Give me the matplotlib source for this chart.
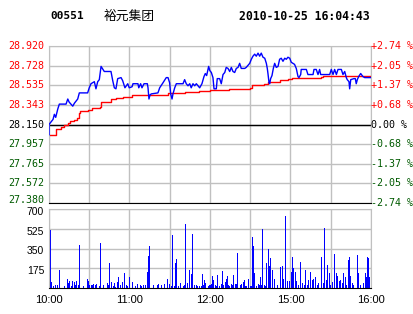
import matplotlib
matplotlib.use('Agg')
import matplotlib.pyplot as plt

# 00551 裕元集团 分时图 2010-10-25
code = '00551'
name = '裕元集团'
stamp = '2010-10-25 16:04:43'
prev_close = 28.150

# 价格线 (分钟, 价格)
price_pts = [(0, 28.05), (0, 28.15), (3, 28.20), (4, 28.25), (5, 28.22), (6.5, 28.30), (7.7, 28.35),
             (12.7, 28.35), (14, 28.40), (15, 28.37), (17.7, 28.33), (19, 28.36), (21.4, 28.40),
             (22.6, 28.46), (28.8, 28.46), (30, 28.51), (31.3, 28.55), (33.8, 28.57), (35, 28.50),
             (36.3, 28.57), (37.5, 28.59), (38.8, 28.72), (41.2, 28.67), (46.2, 28.67), (47.5, 28.58),
             (48.7, 28.51), (49.9, 28.50), (51.2, 28.60), (53.7, 28.61), (54.9, 28.58), (56.6, 28.51),
             (58.7, 28.55), (59.8, 28.51), (61.9, 28.52), (62.6, 28.55), (66.3, 28.55), (66.9, 28.51),
             (68.3, 28.55), (69.3, 28.51), (70.8, 28.55), (73.3, 28.55), (73.8, 28.51), (74.5, 28.40),
             (75.3, 28.44), (76.2, 28.45), (81.2, 28.46), (82.5, 28.51), (85, 28.56), (87.4, 28.61),
             (88.7, 28.61), (89.9, 28.56), (90.7, 28.45), (91.7, 28.40), (92.4, 28.45), (93.7, 28.51),
             (94.9, 28.55), (99.9, 28.55), (101.1, 28.59), (102.3, 28.55), (103.6, 28.53), (104.9, 28.55),
             (106, 28.51), (107.3, 28.55), (108.6, 28.53), (109.8, 28.55), (112.3, 28.51), (114, 28.55),
             (115.5, 28.62), (116.5, 28.65), (117.5, 28.63), (119, 28.72), (119.8, 28.68), (121, 28.66),
             (122.2, 28.61), (123, 28.50), (124.7, 28.50), (125.4, 28.60), (127.2, 28.60), (128.4, 28.55),
             (129.7, 28.64), (131, 28.66), (132.1, 28.71), (133.4, 28.70), (134.7, 28.67), (135.9, 28.71),
             (137.1, 28.67), (138.4, 28.66), (139.6, 28.70), (140.9, 28.71), (142.1, 28.75), (143.3, 28.70),
             (145.9, 28.70), (147, 28.71), (148.3, 28.73), (149.6, 28.75), (150.8, 28.79), (152, 28.82),
             (153.3, 28.84), (154.5, 28.82), (155.8, 28.85), (157, 28.82), (158.2, 28.85), (159.5, 28.81),
             (160.8, 28.80), (162, 28.75), (162.7, 28.70), (163.2, 28.65), (164, 28.56), (164.5, 28.55),
             (165.2, 28.60), (166.2, 28.63), (167.2, 28.70), (168.2, 28.75), (169.4, 28.71), (170.7, 28.72),
             (171.9, 28.79), (173.1, 28.80), (174.4, 28.77), (175.7, 28.80), (176.9, 28.79), (178.1, 28.81),
             (179.4, 28.80), (180.6, 28.76), (181.8, 28.75), (183, 28.74), (184.3, 28.70), (185.6, 28.62),
             (186.3, 28.61), (187.6, 28.64), (188, 28.69), (191.8, 28.69), (193, 28.64), (196.8, 28.64),
             (197.5, 28.69), (199.2, 28.69), (200.5, 28.64), (201.7, 28.69), (202.5, 28.64), (209.2, 28.64),
             (210.4, 28.69), (211.7, 28.64), (212.9, 28.69), (214.2, 28.64), (215.4, 28.69), (217.9, 28.69),
             (219.1, 28.64), (220.4, 28.67), (221.6, 28.61), (222.3, 28.59), (223.6, 28.57), (224.1, 28.50),
             (224.9, 28.59), (227.3, 28.60), (228.3, 28.60), (229, 28.55), (229.8, 28.59), (230.8, 28.62),
             (232.3, 28.65), (234, 28.62), (235.3, 28.61), (240, 28.61)]

# 均价线 (分钟, 均价)
avg_pts = [(0, 28.05), (3, 28.05), (5, 28.11), (9, 28.13), (11, 28.15), (14, 28.16), (16, 28.18),
           (19, 28.19), (21, 28.21), (22, 28.26), (23, 28.28), (29, 28.29), (32, 28.31), (38, 28.32),
           (39, 28.37), (46, 28.40), (50, 28.41), (55, 28.42), (62, 28.44), (89, 28.455), (101, 28.47),
           (112, 28.48), (120, 28.49), (134, 28.495), (150, 28.51), (151, 28.54), (160, 28.55),
           (163, 28.57), (172, 28.59), (178, 28.60), (181, 28.61), (203, 28.62), (204, 28.63), (240, 28.63)]

# 成交量 (分钟, 手)
vol_bars = [(0.7, 510), (1.5, 50), (3.2, 18), (4.7, 27), (5.7, 27), (7.7, 160), (11.4, 18), (13.4, 80),
            (14.4, 40), (15.1, 62), (16.4, 18), (17.4, 62), (18.4, 50), (19.4, 27), (20.3, 62), (21.4, 27),
            (22.6, 380), (25.6, 18), (28.3, 80), (29.1, 58), (30, 27), (31.3, 27), (32, 27), (33, 36),
            (34.5, 27), (35.3, 36), (37.5, 18), (38.2, 401), (40.5, 27), (43.5, 40), (44.2, 27), (44.9, 219),
            (46.4, 50), (47.5, 18), (48.7, 45), (49.4, 10), (50.7, 55), (51.6, 100), (52.9, 27), (54.6, 50),
            (56.1, 133), (57.4, 27), (58.4, 18), (59.6, 100), (61.9, 50), (63.9, 18), (65.6, 36), (67.6, 27),
            (68.3, 18), (70.3, 27), (71.3, 27), (73.3, 145), (74, 286), (74.8, 372), (77.7, 27), (80.3, 27),
            (81, 36), (83.7, 27), (86, 36), (88.2, 80), (89.2, 36), (91.2, 18), (91.9, 470), (92.9, 18),
            (94.1, 219), (94.9, 257), (95.9, 18), (97.4, 18), (97.9, 44), (99.9, 18), (100.6, 27),
            (101.6, 567), (103.1, 44), (104.6, 160), (106.1, 124), (106.8, 478), (107.8, 27), (109.3, 27),
            (110.3, 18), (112.1, 18), (113.1, 18), (113.8, 124), (114.8, 27), (115.8, 71), (116.6, 44),
            (118.3, 18), (119, 27), (119.8, 27), (121, 36), (121.7, 106), (122.4, 71), (123.4, 27),
            (124.6, 18), (125.4, 115), (126.6, 18), (127.9, 36), (129, 150), (129.9, 27), (130.9, 50),
            (131.7, 80), (132.4, 109), (133.4, 27), (134.4, 18), (135.4, 36), (136.4, 27), (137.4, 115),
            (138.4, 36), (139.6, 36), (140.3, 313), (142.3, 27), (143.3, 36), (144.6, 50), (145.3, 71),
            (146.3, 18), (147.1, 18), (148.6, 80), (149.6, 18), (150.6, 18), (151.5, 449), (152.3, 372),
            (153, 133), (154, 18), (155.5, 36), (156.3, 27), (157.5, 100), (158.2, 27), (159, 523),
            (160.5, 27), (161.2, 18), (162, 219), (163, 27), (163.5, 345), (164.2, 195), (165, 263),
            (166.4, 160), (167.9, 80), (170.1, 27), (172.4, 190), (173.7, 198), (174.6, 80), (175.9, 638),
            (177.1, 60), (178.6, 65), (180.1, 145), (181.1, 277), (182.1, 175), (183.1, 140), (184.1, 60),
            (185.3, 30), (187.3, 228), (188.8, 40), (190, 27), (191, 160), (192, 27), (193, 70),
            (194.7, 139), (196, 75), (197, 80), (198, 100), (199.5, 27), (200.7, 40), (202.7, 277),
            (204, 40), (205.2, 529), (206.2, 75), (207.4, 204), (208.5, 130), (209.7, 27), (211.1, 55),
            (212.4, 298), (213.7, 130), (214.9, 110), (216.1, 60), (217.1, 75), (218.4, 40), (219.3, 130),
            (220.4, 100), (221.6, 27), (222.6, 248), (223.6, 277), (224.6, 110), (225.8, 40), (226.8, 27),
            (229.8, 292), (230.5, 130), (231.8, 30), (233.8, 40), (235.3, 130), (236, 100), (236.8, 277),
            (237.7, 267), (238.7, 100), (239.8, 168)]

price_ticks = [28.920, 28.728, 28.535, 28.343, 28.150, 27.957, 27.765, 27.572, 27.380]
pct_labels = ['+2.74 %', '+2.05 %', '+1.37 %', '+0.68 %', '0.00 %', '-0.68 %', '-1.37 %', '-2.05 %', '-2.74 %']
vol_ticks = [175, 350, 525, 700]
time_ticks = [0, 60, 120, 180, 240]
time_labels = ['10:00', '11:00', '12:00', '15:00', '16:00']

grid_c = '#c0c0c0'
green = '#005a00'
mono = ['DejaVu Sans Mono']


def side_color(p):
    if p > prev_close:
        return '#ff0000'
    if p == prev_close:
        return 'black'
    return green


fig = plt.figure(figsize=(4.14, 3.14), dpi=100)

# 标题
fig.text(50 / 414, 1 - 16 / 314, code, family=mono, fontweight='bold', fontsize=8, va='center')
fig.text(104 / 414, 1 - 16 / 314, name, family=['Noto Sans CJK SC', 'DejaVu Sans'], fontsize=9.2, va='center')
fig.text(370 / 414, 1 - 16 / 314, stamp, family=mono, fontweight='bold', fontsize=8.3, va='center', ha='right')

# 价格面板
ax = fig.add_axes([49 / 414, 1 - 203 / 314, 322 / 414, 157 / 314])
ax.set_xlim(0, 240)
ax.set_ylim(27.380, 28.920)
for t in range(0, 241, 30):
    ax.axvline(t, color=grid_c, lw=1, zorder=0)
for p in price_ticks:
    ax.axhline(p, color=grid_c, lw=1, zorder=0)
ax.axhline(prev_close, color='black', lw=1, zorder=1)
ax.plot([m for m, _ in avg_pts], [p for _, p in avg_pts], color='#ff0000', lw=1,
        drawstyle='steps-post', zorder=2)
ax.plot([m for m, _ in price_pts], [p for _, p in price_pts], color='#0000ff', lw=1, zorder=3)

for s in ['top', 'left', 'right']:
    ax.spines[s].set_color(grid_c)
ax.spines['bottom'].set_color('black')
ax.set_xticks([])
ax.set_yticks([])

# 左侧价格 / 右侧涨跌幅
for i, (p, txt) in enumerate(zip(price_ticks, pct_labels)):
    dy = 2 if i == len(price_ticks) - 1 else 0
    ax.annotate('%.3f' % p, xy=(0, p), xycoords=('axes fraction', 'data'), xytext=(-3.5, dy),
                textcoords='offset points', family=mono, fontsize=7.2, color=side_color(p),
                ha='right', va='center')
    ax.annotate(txt, xy=(1, p), xycoords=('axes fraction', 'data'), xytext=(0, 0),
                textcoords='offset points', family=mono, fontsize=7.2, color=side_color(p),
                ha='left', va='center')

# 成交量面板
axv = fig.add_axes([49 / 414, 1 - 288 / 314, 322 / 414, 79 / 314])
axv.set_xlim(0, 240)
axv.set_ylim(0, 700)
for t in range(0, 241, 30):
    axv.axvline(t, color=grid_c, lw=1, zorder=0)
for v in vol_ticks:
    axv.axhline(v, color=grid_c, lw=1, zorder=0)
axv.vlines([m for m, _ in vol_bars], 0, [v for _, v in vol_bars], color='#0000ff', lw=0.55,
           antialiased=False, zorder=2)
for s in ['top', 'left', 'right']:
    axv.spines[s].set_color(grid_c)
axv.spines['bottom'].set_color('black')
axv.set_yticks([])
for v in vol_ticks:
    axv.annotate(str(v), xy=(0, v), xycoords=('axes fraction', 'data'), xytext=(-3.5, -2),
                 textcoords='offset points', family='Liberation Sans', fontsize=7.5,
                 ha='right', va='center')
axv.set_xticks(time_ticks)
axv.set_xticklabels(time_labels, family='Liberation Sans', fontsize=8)
axv.tick_params(length=0, pad=5)

fig.savefig('out.png', dpi=100)
